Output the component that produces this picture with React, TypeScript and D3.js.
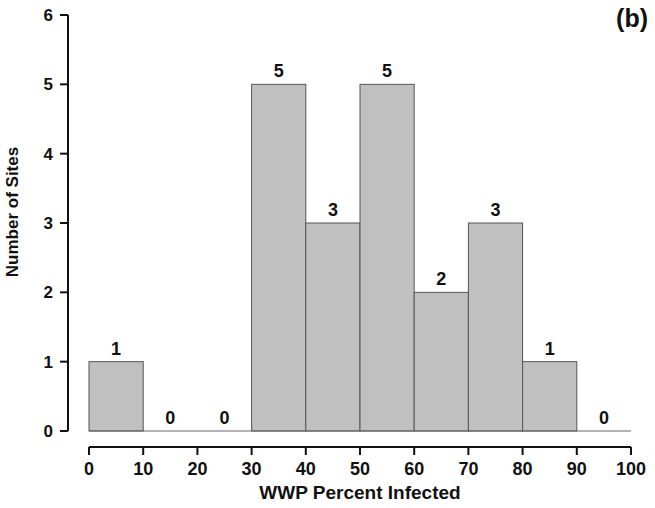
import React from "react";
import * as d3 from "d3";

const binStarts = [0, 10, 20, 30, 40, 50, 60, 70, 80, 90];
const counts = [1, 0, 0, 5, 3, 5, 2, 3, 1, 0];
const xTicks = [0, 10, 20, 30, 40, 50, 60, 70, 80, 90, 100];
const yTicks = [0, 1, 2, 3, 4, 5, 6];

export default function App() {
  const W = 655, H = 508;
  const x = d3.scaleLinear().domain([0, 100]).range([89, 631]);
  const y = d3.scaleLinear().domain([0, 6]).range([431, 15]);
  const font = "'Liberation Sans', Arial, sans-serif";
  const axisX = 68;
  const xAxisY = 447;
  return (
    <svg width={W} height={H} style={{ position: "absolute", left: 0, top: 0 }} fontFamily={font}>
      <rect width={W} height={H} fill="#fff" />
      {binStarts.map((b, i) =>
        counts[i] > 0 ? (
          <rect key={"b" + i} x={x(b)} y={y(counts[i])} width={x(b + 10) - x(b)} height={y(0) - y(counts[i])}
            fill="#c0c0c0" stroke="#555" strokeWidth={1} />
        ) : null
      )}
      <line x1={x(0)} x2={x(100)} y1={y(0)} y2={y(0)} stroke="#666" strokeWidth={1.2} />
      {binStarts.map((b, i) => (
        <text key={"l" + i} x={x(b + 5)} y={y(counts[i]) - 7} textAnchor="middle" fontWeight="bold" fontSize={18} fill="#111">
          {counts[i]}
        </text>
      ))}
      <line x1={axisX} x2={axisX} y1={y(6)} y2={y(0)} stroke="#111" strokeWidth={2} />
      {yTicks.map((t) => (
        <g key={"y" + t}>
          <line x1={axisX - 8} x2={axisX} y1={y(t)} y2={y(t)} stroke="#111" strokeWidth={2} />
          <text x={axisX - 15} y={y(t)} dy="0.36em" textAnchor="end" fontWeight="bold" fontSize={17} fill="#111">{t}</text>
        </g>
      ))}
      <text transform={`translate(18,${212}) rotate(-90)`} textAnchor="middle" fontWeight="bold" fontSize={17} fill="#111">
        Number of Sites
      </text>
      <line x1={x(0)} x2={x(100)} y1={xAxisY} y2={xAxisY} stroke="#111" strokeWidth={2} />
      {xTicks.map((t) => (
        <g key={"x" + t}>
          <line x1={x(t)} x2={x(t)} y1={xAxisY} y2={xAxisY + 8} stroke="#111" strokeWidth={2} />
          <text x={x(t)} y={475} textAnchor="middle" fontWeight="bold" fontSize={18} fill="#111">{t}</text>
        </g>
      ))}
      <text x={360} y={499} textAnchor="middle" fontWeight="bold" fontSize={19} fill="#111">WWP Percent Infected</text>
      <text x={648} y={27} textAnchor="end" fontWeight="bold" fontSize={25} fill="#111">(b)</text>
    </svg>
  );
}
